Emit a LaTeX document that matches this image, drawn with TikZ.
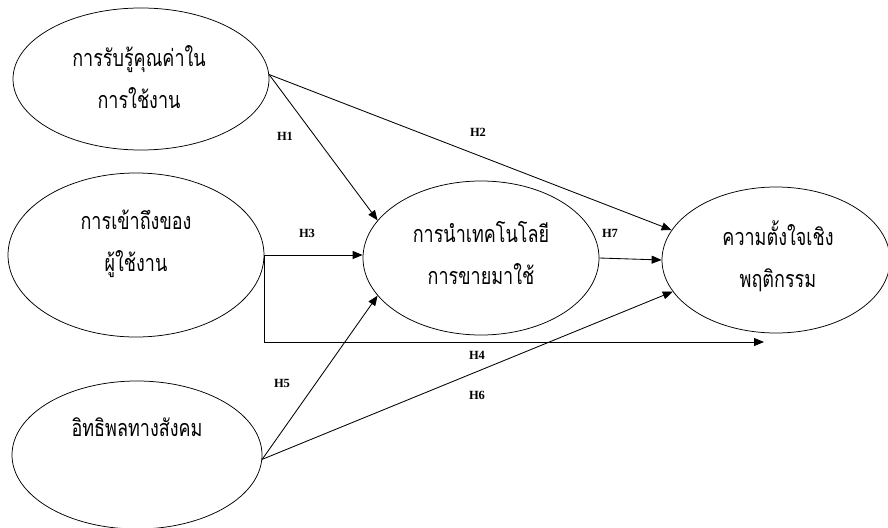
\documentclass[tikz,border=0pt]{standalone}
\usepackage{fontspec}
\setmainfont{Liberation Serif}
\newfontfamily\thaifont[Script=Thai]{Loma}
\usetikzlibrary{shapes.geometric,arrows.meta}
\newcommand{\tall}[1]{\scalebox{1}[1.3]{#1}}
\begin{document}
\begin{tikzpicture}[x=1pt,y=-1pt,
  oval/.style={draw,ellipse,line width=0.75pt,inner sep=0pt},
  thtext/.style={font=\thaifont\fontsize{18}{42}\selectfont,align=center,inner sep=0pt},
  hlab/.style={font=\bfseries\fontsize{12.5}{12.5}\selectfont,inner sep=0pt},
  conn/.style={line width=0.85pt,-{Triangle[length=10pt,width=8pt]}}]
\useasboundingbox (0,0) rectangle (888,527);
% ellipses
\node[oval,minimum width=256pt,minimum height=142pt] (e1) at (141,79) {};
\node[oval,minimum width=256pt,minimum height=164pt] (e2) at (136,255) {};
\node[oval,minimum width=250pt,minimum height=148pt] (e3) at (137,455) {};
\node[oval,minimum width=236pt,minimum height=154pt] (e4) at (481,258) {};
\node[oval,minimum width=228pt,minimum height=146pt] (e5) at (776,260) {};
% texts
\node[thtext] (t1) at (139,77) {\tall{การรับรู้คุณค่าใน}\\\tall{การใช้งาน}};
\node[thtext] (t2) at (136,244) {\tall{การเข้าถึงของ}\\\tall{ผู้ใช้งาน}};
\node[thtext] (t3) at (137,427) {\tall{อิทธิพลทางสังคม}};
\node[thtext] (t4) at (481,253) {\tall{การนำเทคโนโลยี}\\\tall{การขายมาใช้}};
\node[thtext] (t5) at (778,256) {\tall{ความตั้งใจเชิง}\\\tall{พฤติกรรม}};
% connectors
\coordinate (j) at (e2.east);
\coordinate (h4end) at (764,342);
\draw[conn] (e1.2) -- (e4.160);
\draw[conn] (e1.2) -- (e5.164);
\draw[conn] (j) -- (j -| e4.west);
\draw[conn] (j) |- (h4end);
\draw[conn] (e4.east) -- (e5.west);
\draw[conn] (e3.-2) -- (e4.200);
\draw[conn] (e3.-2) -- (e5.197);
% labels
\node[hlab] (l1) at (285,136) {H1};
\node[hlab] (l2) at (478,132) {H2};
\node[hlab] (l3) at (307,233) {H3};
\node[hlab] (l7) at (610,233) {H7};
\node[hlab] (l4) at (477,355) {H4};
\node[hlab] (l5) at (282,383) {H5};
\node[hlab] (l6) at (477,395) {H6};
\end{tikzpicture}
\end{document}
